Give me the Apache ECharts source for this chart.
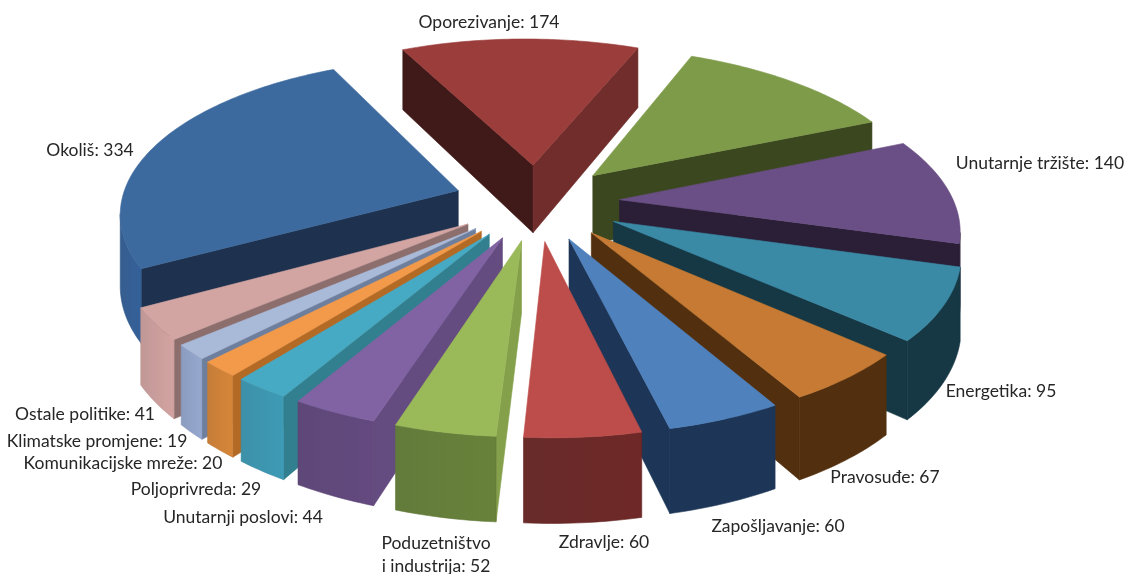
<!DOCTYPE html>
<html><head><meta charset="utf-8">
<style>html,body{margin:0;padding:0;background:#fff}#c{width:1131px;height:574px}</style>
<script src="https://cdn.jsdelivr.net/npm/echarts@6/dist/echarts.min.js"></script>
</head><body><div id="c"></div>
<script>
const categories=['Oporezivanje','','Unutarnje tržište','Energetika','Pravosuđe','Zapošljavanje','Zdravlje','Poduzetništvo\ni industrija','Unutarnji poslovi','Poljoprivreda','Komunikacijske mreže','Klimatske promjene','Ostale politike','Okoliš'];
const values=[174,160,140,95,67,60,60,52,44,29,20,19,41,334];
const topColors=['#9a3d3b','#7e9b4a','#694f85','#3a8aa6','#c67a33','#4f81bd','#bd4d4a','#9aba59','#8163a3','#46aac4','#f39a4a','#a9b9d8','#d2a5a3','#3d6a9e'];
const startWall=['#3f1a18','#3b471f','#2a1f37','#163844','#52300f','#1d3557','#5a1f1e','#84a04a','#654c80','#317f8f','#b36a25','#6e7f9e','#8c6f6d','#1e324f'];
const endWall=['#712d2b','#3b471f','#2a1f37','#163844','#52300f','#1d3557','#5a1f1e','#5a7033','#5e4778','#3a90a9','#c97f37','#8c9bc0','#c49a98','#1e324f'];
const outerWall=['#5a2423','#5a7033','#2a1f37','#163844','#52300f','#1d3557','#642524','#5f7735','#5a4374','#388da6','#c47a33','#8899bd','#c09593','#30598c'];
const labelPos=[[489,22],null,[1040,163],[1001,391],[885,477],[778,526],[604,542],[436,555],[243,517],[196,489],[123,463],[97,441],[85,414],[90,150]];
const explodeBy=[83,83,83,85,83,83,83,83,83,83,83,83,83,83];
const startAngle=-27, radius=336, height=70, persp=2290, squash=0.46, cx=537, cy=202, roll=0.01;
const total=values.reduce((a,b)=>a+b,0);
let acc=startAngle;
const spans=values.map(v=>{const a0=acc;acc+=v/total*360;return [a0,acc];});
const rad=d=>d*Math.PI/180;
function proj(x,y,z){
  const k=1/(1+y/persp);
  return [cx+x*k,cy-y*squash*k+z*k+x*roll];
}
const midY=spans.map(s=>Math.cos(rad((s[0]+s[1])/2)));
const order=midY.map((m,i)=>[m,i]).sort((a,b)=>b[0]-a[0]).map(p=>p[1]);
const rank={};order.forEach((i,r)=>rank[i]=r);
function area(p){let s=0;for(let i=0;i<p.length;i++){const q=p[(i+1)%p.length];s+=p[i][0]*q[1]-q[0]*p[i][1];}return s;}
function poly(points,fill,z2,stroke){return {type:'polygon',shape:{points},z2,style:{fill,stroke:stroke||fill,lineWidth:0.6}};}
function renderItem(params,api){
  const i=params.dataIndex, share=api.value(0)/total*360;
  const a0=spans[i][0], a1=a0+share, m=rad((a0+a1)/2);
  const ox=explodeBy[i]*Math.sin(m), oy=explodeBy[i]*Math.cos(m);
  const pt=(a,z)=>proj(ox+radius*Math.sin(rad(a)),oy+radius*Math.cos(rad(a)),z);
  const tipT=proj(ox,oy,0), tipB=proj(ox,oy,height);
  const base=rank[i]*10, children=[];
  const wa=[tipT,pt(a0,0),pt(a0,height),tipB], wb=[pt(a1,0),tipT,tipB,pt(a1,height)];
  if(area(wa)<0)children.push(poly(wa,startWall[i],base));
  if(area(wb)<0)children.push(poly(wb,endWall[i],base));
  const n=Math.max(4,Math.ceil(share)), angs=[];
  for(let j=0;j<=n;j++)angs.push(a0+share*j/n);
  let run=null;
  const flush=()=>{if(run){
    const t=run.map(a=>pt(a,0)),b=run.map(a=>pt(a,height)).reverse();
    const c=outerWall[i];
    const flat=c===startWall[i]||c===endWall[i];
    const fill=flat?c:new echarts.graphic.LinearGradient(0,0,1,0,[{offset:0,color:echarts.color.lift(c,0.03)},{offset:1,color:echarts.color.lift(c,-0.1)}]);
    children.push(poly(t.concat(b),fill,base+1,c));run=null;}};
  for(let j=0;j<n;j++){
    const q=[pt(angs[j],0),pt(angs[j+1],0),pt(angs[j+1],height),pt(angs[j],height)];
    if(area(q)<0){if(!run)run=[angs[j]];run.push(angs[j+1]);}else flush();
  }
  flush();
  children.push(poly([tipT].concat(angs.map(a=>pt(a,0))),topColors[i],base+2));
  if(categories[i]&&labelPos[i]){
    children.push({type:'text',z2:1000,style:{x:labelPos[i][0],y:labelPos[i][1],text:categories[i]+': '+api.value(0),fill:'#262626',font:'17.5px Lato, "Open Sans", sans-serif',align:'center',verticalAlign:'middle',lineHeight:23}});
  }
  return {type:'group',children};
}
const chart=echarts.init(document.getElementById('c'),null,{renderer:'canvas'});
chart.setOption({animation:false,backgroundColor:'#fff',tooltip:{show:false},
  series:[{type:'custom',coordinateSystem:'none',silent:true,renderItem,data:values.map(v=>[v])}]});
</script></body></html>
